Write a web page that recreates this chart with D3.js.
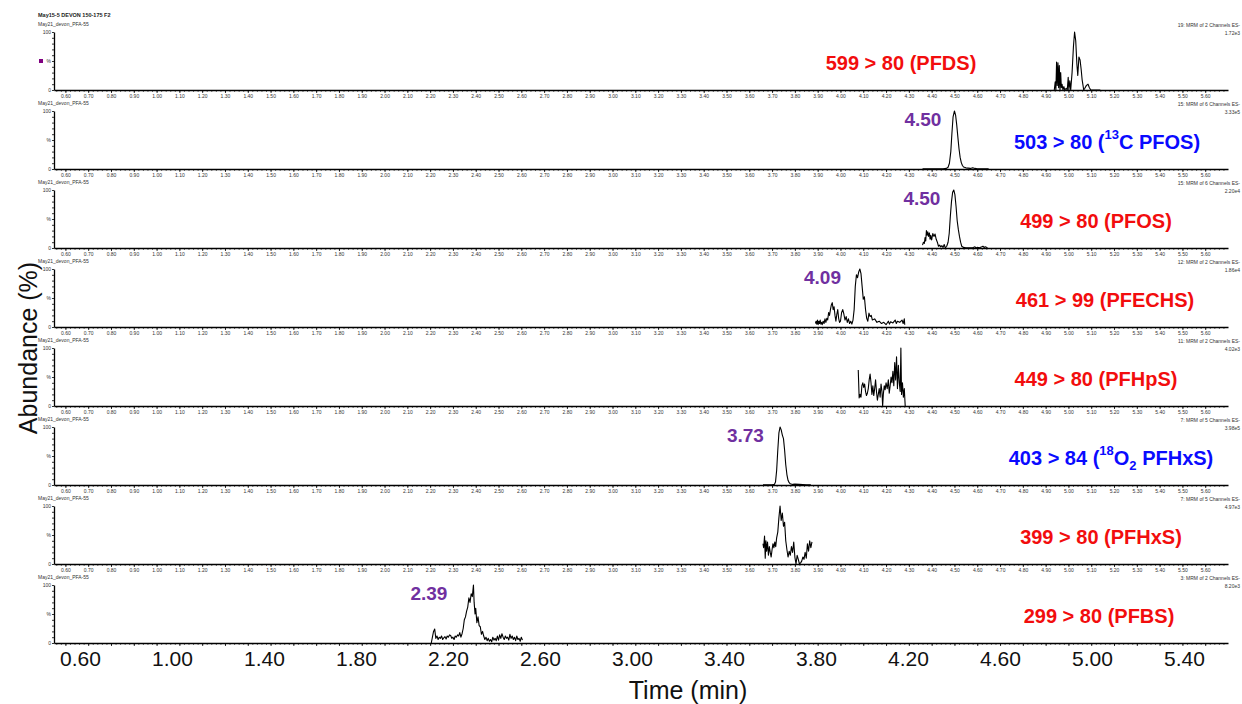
<!DOCTYPE html>
<html><head><meta charset="utf-8">
<script src="https://cdn.jsdelivr.net/npm/d3@7"></script>
<style>
body{margin:0;background:#fff}
svg{display:block;font-family:"Liberation Sans",Arial,Helvetica,sans-serif}
</style>
</head><body>
<svg id="chart" width="1242" height="704"></svg>
<script>
// ---------------- DATA ----------------
const headerTitle = "May15-5 DEVON 150-175 F2";
const sampleName = "May21_devon_PFA-55";
const transitionParts = [
  [["599 > 80 (PFDS)"]],
  [["503 > 80 ("], ["13","sup"], ["C PFOS)"]],
  [["499 > 80 (PFOS)"]],
  [["461 > 99 (PFECHS)"]],
  [["449 > 80 (PFHpS)"]],
  [["403 > 84 ("], ["18","sup"], ["O"], ["2","sub"], [" PFHxS)"]],
  [["399 > 80 (PFHxS)"]],
  [["299 > 80 (PFBS)"]]
];
const isInternalStd = [false, true, false, false, false, true, false, false];
const channelInfo = [
  "19: MRM of 2 Channels ES-", "15: MRM of 6 Channels ES-", "15: MRM of 6 Channels ES-",
  "12: MRM of 2 Channels ES-", "11: MRM of 2 Channels ES-", "7: MRM of 5 Channels ES-",
  "7: MRM of 5 Channels ES-", "3: MRM of 2 Channels ES-"
];
const intensityMax = ["1.72e3", "3.33e5", "2.20e4", "1.86e4", "4.02e3", "3.98e5", "4.97e3", "8.20e3"];
const retentionLabels = [null, "4.50", "4.50", "4.09", null, "3.73", null, "2.39"];
const yTickLabels = ["100", "%", "0"];
const bigTickLabels = ["0.60","1.00","1.40","1.80","2.20","2.60","3.00","3.40","3.80","4.20","4.60","5.00","5.40"];
const timeDomain = [0.55, 5.70];

// traces: [time (min), abundance (%)]
const pfdsTrace = [[4.938,0],[4.942,14],[4.945,0],[4.948,48],[4.951,8],[4.954,47],[4.957,4],[4.960,42],[4.963,0],[4.966,30],[4.969,4],[4.972,10],[4.976,0],[4.980,6],[4.984,0],[4.990,3],[4.995,0],[4.999,22],[5.002,0],[5.006,16],[5.010,0],[5.016,30],[5.022,75],[5.027,100],[5.032,85],[5.037,45],[5.041,25],[5.046,57],[5.051,52],[5.056,35],[5.060,18],[5.064,8],[5.067,0],[5.072,3],[5.079,8],[5.086,10],[5.092,4],[5.098,0],[5.140,0]];
const c13PfosTrace = [[4.36,0.5],[4.40,0.5],[4.45,0.5],[4.465,1],[4.472,3],[4.478,10],[4.484,30],[4.489,62],[4.494,90],[4.500,100],[4.505,93],[4.510,76],[4.515,55],[4.520,35],[4.525,20],[4.530,11],[4.535,6],[4.540,3.5],[4.550,2],[4.560,1.5],[4.570,1],[4.580,2],[4.590,1],[4.600,0.5],[4.650,0.5]];
const pfosTrace = [[4.360,5],[4.364,10],[4.368,8],[4.371,18],[4.374,12],[4.377,30],[4.380,22],[4.383,28],[4.386,20],[4.390,26],[4.393,15],[4.396,22],[4.400,14],[4.405,25],[4.410,20],[4.415,24],[4.420,15],[4.425,10],[4.430,3],[4.435,5],[4.440,2],[4.445,4],[4.450,1],[4.455,6],[4.460,0],[4.466,3],[4.472,10],[4.477,25],[4.482,55],[4.487,80],[4.492,96],[4.497,100],[4.502,92],[4.507,72],[4.512,47],[4.517,32],[4.522,20],[4.527,10],[4.532,3],[4.540,1],[4.550,0.5],[4.580,0.5],[4.590,2],[4.595,0],[4.600,1],[4.610,0.5],[4.620,2],[4.625,3],[4.630,1],[4.635,2],[4.645,0.5]];
const pfechsTrace = [[3.890,6],[3.893,10],[3.896,5],[3.899,12],[3.902,4],[3.905,10],[3.908,6],[3.911,12],[3.914,5],[3.917,8],[3.920,4],[3.924,10],[3.928,6],[3.932,14],[3.936,8],[3.940,15],[3.944,12],[3.948,25],[3.952,20],[3.956,30],[3.960,38],[3.964,42],[3.968,30],[3.972,35],[3.976,20],[3.980,10],[3.984,22],[3.988,30],[3.992,15],[3.996,8],[4.000,10],[4.005,25],[4.010,30],[4.015,22],[4.020,12],[4.025,18],[4.030,8],[4.035,14],[4.040,6],[4.045,10],[4.050,5],[4.055,12],[4.060,30],[4.065,70],[4.070,90],[4.075,85],[4.080,95],[4.085,100],[4.090,92],[4.095,70],[4.100,48],[4.105,52],[4.110,30],[4.115,15],[4.120,10],[4.125,24],[4.130,18],[4.135,20],[4.140,12],[4.150,14],[4.160,8],[4.170,10],[4.180,6],[4.190,8],[4.200,4],[4.210,10],[4.215,5],[4.220,9],[4.230,7],[4.240,12],[4.245,6],[4.250,10],[4.260,8],[4.270,12],[4.275,6],[4.280,14],[4.282,4]];
const pfhpsTrace = [[4.078,62],[4.082,14],[4.086,20],[4.090,15],[4.094,35],[4.098,40],[4.102,32],[4.106,38],[4.110,25],[4.114,18],[4.118,22],[4.122,30],[4.126,45],[4.130,55],[4.134,40],[4.138,20],[4.142,35],[4.146,18],[4.150,30],[4.154,45],[4.158,25],[4.162,10],[4.166,20],[4.170,30],[4.174,15],[4.178,38],[4.182,25],[4.185,0],[4.188,20],[4.192,35],[4.196,28],[4.200,40],[4.205,30],[4.210,45],[4.214,22],[4.218,35],[4.222,50],[4.226,40],[4.230,60],[4.234,35],[4.238,75],[4.242,45],[4.246,85],[4.250,30],[4.254,70],[4.258,40],[4.262,25],[4.265,100],[4.268,20],[4.272,40],[4.276,15],[4.280,30],[4.284,0]];
const o18PfhxsTrace = [[3.66,0.5],[3.70,0.5],[3.710,1],[3.715,5],[3.720,25],[3.725,60],[3.730,90],[3.735,100],[3.740,95],[3.745,86],[3.750,80],[3.755,60],[3.760,35],[3.765,18],[3.770,8],[3.775,4],[3.780,2],[3.790,1],[3.800,1.5],[3.820,1],[3.850,0.5],[3.870,0.5]];
const pfhxsTrace = [[3.660,35],[3.663,28],[3.667,48],[3.670,10],[3.673,40],[3.676,22],[3.680,38],[3.684,15],[3.688,30],[3.692,20],[3.696,12],[3.700,25],[3.704,35],[3.708,28],[3.712,38],[3.716,30],[3.720,45],[3.725,55],[3.730,80],[3.735,100],[3.740,75],[3.745,88],[3.750,65],[3.755,72],[3.760,40],[3.765,25],[3.770,12],[3.775,22],[3.780,15],[3.785,30],[3.790,20],[3.795,38],[3.800,12],[3.805,0],[3.810,15],[3.815,8],[3.820,0],[3.825,2],[3.830,5],[3.835,12],[3.840,8],[3.845,20],[3.850,10],[3.855,35],[3.860,22],[3.865,40],[3.870,28],[3.875,38]];
const pfbsTrace = [[2.205,0],[2.210,10],[2.215,20],[2.220,24],[2.225,8],[2.230,12],[2.235,6],[2.240,10],[2.245,8],[2.250,12],[2.255,6],[2.260,9],[2.265,11],[2.270,7],[2.275,12],[2.280,10],[2.285,14],[2.290,13],[2.295,8],[2.300,10],[2.305,6],[2.310,12],[2.315,10],[2.320,14],[2.325,12],[2.330,18],[2.335,10],[2.340,16],[2.345,25],[2.350,40],[2.355,45],[2.360,55],[2.365,62],[2.370,78],[2.375,70],[2.380,85],[2.385,80],[2.390,100],[2.393,70],[2.397,50],[2.400,60],[2.405,35],[2.410,45],[2.415,30],[2.420,28],[2.425,15],[2.430,20],[2.435,12],[2.440,6],[2.445,10],[2.450,4],[2.455,8],[2.460,3],[2.465,6],[2.470,2],[2.475,10],[2.480,5],[2.485,8],[2.490,4],[2.495,12],[2.500,5],[2.505,14],[2.510,8],[2.515,16],[2.520,10],[2.525,6],[2.530,12],[2.535,8],[2.540,10],[2.545,5],[2.550,15],[2.555,8],[2.560,12],[2.565,6],[2.570,10],[2.575,4],[2.580,12],[2.585,6],[2.590,8],[2.595,3],[2.600,10],[2.605,5]];
const traces = [pfdsTrace, c13PfosTrace, pfosTrace, pfechsTrace, pfhpsTrace, o18PfhxsTrace, pfhxsTrace, pfbsTrace];

// ---------------- LAYOUT ----------------
const left = 54, right = 1228;
const firstTop = 32, panelStep = 79, panelH = 58;
const labelCenterX = [901, 1107, 1096, 1105, 1096, 1111, 1101, 1099];
const rtGap = [0, 13, 14, 20, 0, 15, 0, 26];
const RED = "#f20d0d", BLUE = "#0a0aff", PURPLE = "#7030a0";

const svg = d3.select("#chart");
const x = d3.scaleLinear().domain(timeDomain).range([left, right]);
const bigX = d3.scaleLinear().domain(timeDomain).range([172 + (timeDomain[0] - 1) * 230, 172 + (timeDomain[1] - 1) * 230]);

const minorTicks = d3.range(56, 570, 2).map(v => v / 100).filter(v => v >= timeDomain[0] && v <= timeDomain[1]);
const majorTicks = d3.range(6, 57, 1).map(v => v / 10);

svg.append("text").attr("x", 38).attr("y", 15).attr("dominant-baseline", "central")
  .attr("font-size", 5.5).attr("font-weight", "bold").attr("fill", "#222").text(headerTitle);

traces.forEach((trace, k) => {
  const top = firstTop + k * panelStep, base = top + panelH;
  const y = d3.scaleLinear().domain([0, 100]).range([base, top]);
  const g = svg.append("g");

  g.append("text").attr("x", 38).attr("y", top - 8).attr("dominant-baseline", "central")
    .attr("font-size", 5).attr("fill", "#333").text(sampleName);
  g.append("text").attr("x", 1240).attr("y", top - 7).attr("text-anchor", "end").attr("dominant-baseline", "central")
    .attr("font-size", 5).attr("fill", "#333").text(channelInfo[k]);
  g.append("text").attr("x", 1240).attr("y", top + 1).attr("text-anchor", "end").attr("dominant-baseline", "central")
    .attr("font-size", 5).attr("fill", "#333").text(intensityMax[k]);

  // y axis
  const yAxisG = g.append("g").attr("transform", `translate(${left},0)`);
  yAxisG.call(d3.axisLeft(y).tickValues(d3.range(0, 101, 10)).tickSize(2).tickFormat("").tickSizeOuter(0));
  yAxisG.select(".domain").attr("stroke", "#000").attr("stroke-width", 1.3);
  yAxisG.selectAll(".tick line").attr("stroke", "#000").attr("stroke-width", 0.8);
  const yVals = [100, 50, 0];
  yTickLabels.forEach((lab, i) => {
    g.append("text").attr("x", left - 3).attr("y", y(yVals[i])).attr("text-anchor", "end")
      .attr("dominant-baseline", "central").attr("font-size", 5).attr("fill", "#333").text(lab);
  });

  // x axis
  const xMinor = g.append("g").attr("transform", `translate(0,${base})`)
    .call(d3.axisBottom(x).tickValues(minorTicks).tickSize(1.8).tickFormat("").tickSizeOuter(0));
  xMinor.select(".domain").attr("stroke", "#000").attr("stroke-width", 1.3);
  xMinor.selectAll(".tick line").attr("stroke", "#000").attr("stroke-width", 0.7);
  const xMajor = g.append("g").attr("transform", `translate(0,${base})`)
    .call(d3.axisBottom(x).tickValues(majorTicks).tickSize(3).tickPadding(1)
      .tickFormat(k < traces.length - 1 ? d3.format(".2f") : () => "").tickSizeOuter(0));
  xMajor.select(".domain").remove();
  xMajor.selectAll(".tick line").attr("stroke", "#000").attr("stroke-width", 0.8);
  xMajor.selectAll(".tick text").attr("font-size", 5).attr("fill", "#333")
    .attr("font-family", '"Liberation Sans",Arial,sans-serif');

  // trace
  g.append("path").datum(trace)
    .attr("d", d3.line().x(d => x(d[0])).y(d => y(d[1])))
    .attr("fill", "none").attr("stroke", "#000").attr("stroke-width", 1.1).attr("stroke-linejoin", "round");

  // transition label
  const t = g.append("text").attr("x", labelCenterX[k]).attr("y", top + 31).attr("text-anchor", "middle")
    .attr("dominant-baseline", "central").attr("font-size", 20).attr("font-weight", "bold")
    .attr("fill", isInternalStd[k] ? BLUE : RED);
  transitionParts[k].forEach(p => {
    const ts = t.append("tspan").text(p[0]);
    if (p[1] === "sup") ts.attr("font-size", 13).attr("baseline-shift", "super");
    if (p[1] === "sub") ts.attr("font-size", 13).attr("baseline-shift", "sub");
  });

  // retention time label
  if (retentionLabels[k]) {
    g.append("text").attr("x", x(+retentionLabels[k]) - rtGap[k]).attr("y", top + 8)
      .attr("text-anchor", "end").attr("dominant-baseline", "central")
      .attr("font-size", 19).attr("font-weight", "bold").attr("fill", PURPLE).text(retentionLabels[k]);
  }
});

// purple marker in first panel
svg.append("rect").attr("x", 39).attr("y", 59).attr("width", 4).attr("height", 4).attr("fill", "#800080");

// big bottom axis labels
const lastBase = firstTop + (traces.length - 1) * panelStep + panelH;
const bigAxis = svg.append("g").attr("transform", `translate(0,${lastBase + 6})`)
  .call(d3.axisBottom(bigX).tickValues(bigTickLabels.map(Number)).tickSize(0).tickPadding(2)
    .tickFormat((d, i) => bigTickLabels[i]));
bigAxis.select(".domain").remove();
bigAxis.selectAll(".tick text").attr("font-size", 21).attr("fill", "#111")
  .attr("font-family", '"Liberation Sans",Arial,sans-serif');

svg.append("text").attr("x", 688).attr("y", 690).attr("text-anchor", "middle").attr("dominant-baseline", "central")
  .attr("font-size", 25).attr("fill", "#111").text("Time (min)");
svg.append("text").attr("transform", "translate(28,348) rotate(-90)").attr("text-anchor", "middle")
  .attr("dominant-baseline", "central").attr("font-size", 25).attr("fill", "#111").text("Abundance (%)");
</script>
</body></html>
